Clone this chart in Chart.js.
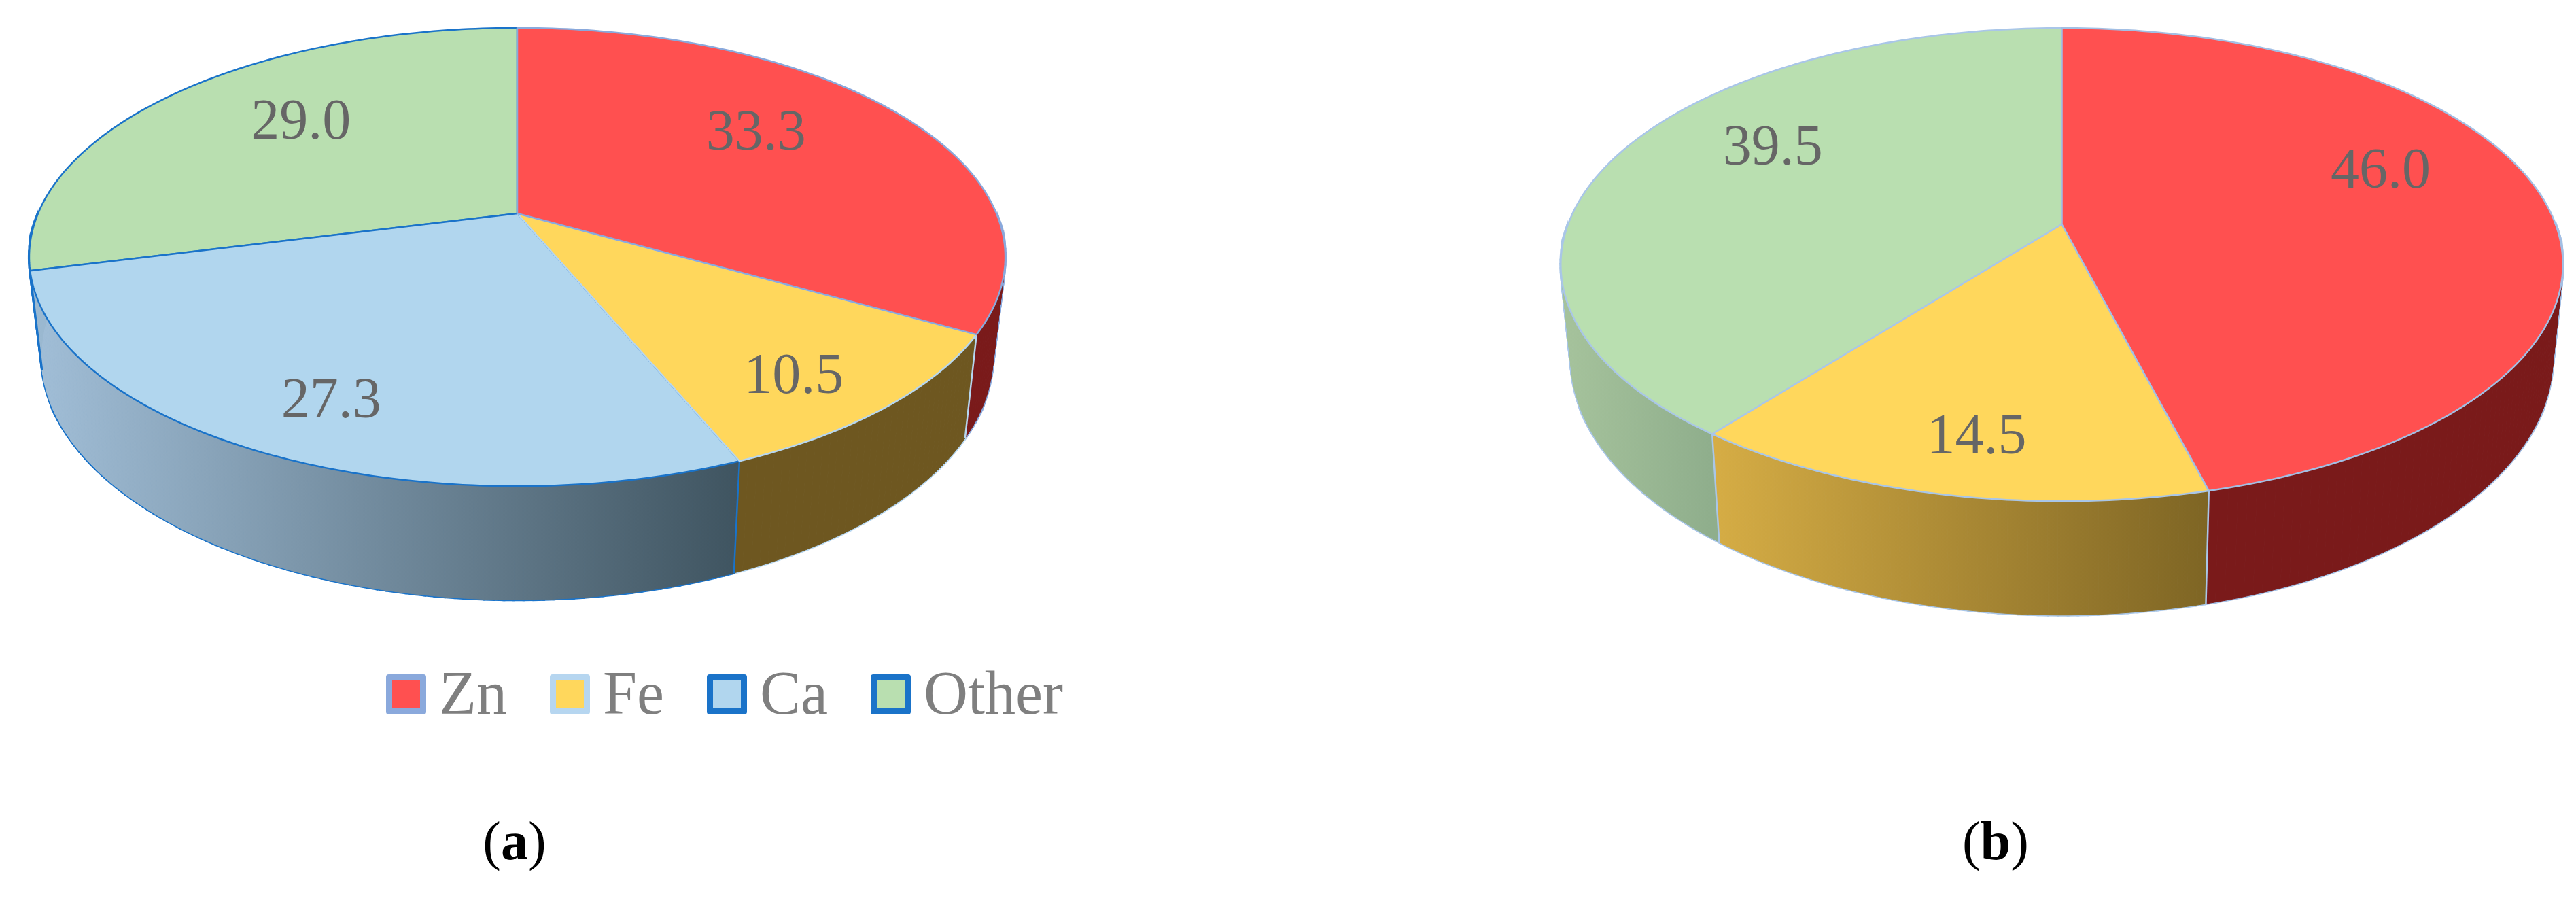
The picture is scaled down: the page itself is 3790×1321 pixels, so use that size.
<!DOCTYPE html>
<html>
<head>
<meta charset="utf-8">
<title>Composition pies</title>
<script src="https://cdn.jsdelivr.net/npm/chart.js@4"></script>
<style>
  html, body { margin: 0; background: #fff; overflow: hidden; }
  body { position: relative; width: 3790px; height: 1321px; font-family: "Liberation Serif", serif; }
  canvas { position: absolute; }
  #pieA { left: 0; top: -40px; }
  #pieB { left: 2200px; top: -40px; }
  .caption { position: absolute; top: 1197px; font-size: 80px; line-height: 80px; color: #000; transform: translateX(-50%); }
  #legend { position: absolute; left: 568px; top: 992px; display: flex; }
  .item { display: flex; margin-right: 63px; font-size: 90px; line-height: 60px; color: #7f7f7f; }
  .swatch { width: 41px; height: 41px; border-style: solid; border-width: 9.5px; border-radius: 4px; margin-right: 19px; }
  .item span { position: relative; top: -2px; }
</style>
</head>
<body>
<canvas id="pieA" width="1560" height="1000"></canvas>
<canvas id="pieB" width="1590" height="1000"></canvas>
<div id="legend"></div>
<div class="caption" style="left:757px">(<b>a</b>)</div>
<div class="caption" style="left:2936px">(<b>b</b>)</div>

<script>
const labelsA = ['Zn', 'Fe', 'Ca', 'Other'];
const valuesA = [33.3, 10.5, 27.3, 29.0];
const labelsB = ['Zn', 'Fe', 'Other'];
const valuesB = [46.0, 14.5, 39.5];

const RED = '#ff5050', YELLOW = '#ffd75c', BLUE = '#b1d6ee', GREEN = '#b9dfb0';

// fake 3d look of the pies: k is the perspective, base is the lower rim relative to the top one
function pie3d(look) {
  function project(chart, arc, angle, radius, rim) {
    const area = chart.chartArea;
    const x = Math.cos(angle) * radius, y = Math.sin(angle) * radius;
    const w = 1 - look.k * y;
    return {
      x: arc.x + rim.sx * (area.width / 2) * x / w,
      y: arc.y + rim.dy + rim.sy * (area.height / 2) * y / w
    };
  }
  const top = { sx: 1, sy: 1, dy: 0 };

  function angles(arc) {
    const list = [];
    const n = Math.ceil((arc.endAngle - arc.startAngle) / (Math.PI / 180));
    for (let i = 0; i <= n; i++) list.push(arc.startAngle + (arc.endAngle - arc.startAngle) * i / n);
    return list;
  }

  function drawWall(chart, arc, i, pass) {
    const ctx = chart.ctx;
    const near = angles(arc).filter(a => Math.sin(a) >= 0);
    if (near.length < 2) return;
    const xs = near.map(a => project(chart, arc, a, 1, top).x);
    const grad = ctx.createLinearGradient(Math.min(...xs), 0, Math.max(...xs), 0);
    grad.addColorStop(0, look.walls[i][0]);
    grad.addColorStop(1, look.walls[i][1]);
    for (let j = 0; j < near.length - 1; j++) {
      const p = [project(chart, arc, near[j], 1, top), project(chart, arc, near[j + 1], 1, top),
        project(chart, arc, near[j + 1], 1, look.base), project(chart, arc, near[j], 1, look.base)];
      ctx.beginPath();
      p.forEach((q, n) => n ? ctx.lineTo(q.x, q.y) : ctx.moveTo(q.x, q.y));
      ctx.closePath();
      if (pass === 0) {
        ctx.strokeStyle = arc.options.borderColor;
        ctx.lineWidth = 4;
        ctx.stroke();
      } else {
        ctx.fillStyle = grad;
        ctx.strokeStyle = grad;
        ctx.lineWidth = 1;
        ctx.fill();
        ctx.stroke();
      }
    }
  }

  function drawEdge(chart, arc, angle) {
    if (Math.sin(angle) < 0) return;
    const ctx = chart.ctx;
    const a = project(chart, arc, angle, 1, top), b = project(chart, arc, angle, 1, look.base);
    ctx.beginPath();
    ctx.moveTo(a.x, a.y);
    ctx.lineTo(b.x, b.y);
    ctx.strokeStyle = arc.options.borderColor;
    ctx.lineWidth = 2.5;
    ctx.stroke();
  }

  function drawTop(chart, arc) {
    const ctx = chart.ctx;
    ctx.beginPath();
    ctx.moveTo(arc.x, arc.y);
    angles(arc).forEach(a => {
      const q = project(chart, arc, a, 1, top);
      ctx.lineTo(q.x, q.y);
    });
    ctx.closePath();
    ctx.fillStyle = arc.options.backgroundColor;
    ctx.strokeStyle = arc.options.borderColor;
    ctx.lineWidth = arc.options.borderWidth;
    ctx.lineJoin = 'round';
    ctx.fill();
    ctx.stroke();
  }

  function drawLabel(chart, arc, i, value) {
    const ctx = chart.ctx;
    const q = project(chart, arc, (arc.startAngle + arc.endAngle) / 2, 0.65, top);
    ctx.fillStyle = '#666666';
    ctx.font = '84px "Liberation Serif", serif';
    ctx.textAlign = 'center';
    ctx.textBaseline = 'middle';
    ctx.fillText(value.toFixed(1), q.x + look.labelShift[i][0], q.y + look.labelShift[i][1]);
  }

  return {
    id: 'pie3d',
    // draws in place of the flat arcs, from the arcs the controller computed
    beforeDatasetsDraw(chart) {
      const arcs = chart.getDatasetMeta(0).data;
      const values = chart.data.datasets[0].data;
      arcs.forEach((arc, i) => drawWall(chart, arc, i, 0));
      arcs.forEach((arc, i) => drawWall(chart, arc, i, 1));
      arcs.forEach(arc => {
        drawEdge(chart, arc, arc.startAngle);
      });
      // Zn goes last, its outline sits on top in the original
      arcs.slice().reverse().forEach(arc => drawTop(chart, arc));
      arcs.forEach((arc, i) => drawLabel(chart, arc, i, values[i]));
      return false;
    }
  };
}

const htmlLegend = {
  id: 'htmlLegend',
  afterUpdate(chart) {
    const box = document.getElementById('legend');
    box.innerHTML = '';
    chart.options.plugins.legend.labels.generateLabels(chart).forEach(item => {
      const el = document.createElement('div');
      el.className = 'item';
      const swatch = document.createElement('div');
      swatch.className = 'swatch';
      swatch.style.background = item.fillStyle;
      swatch.style.borderColor = item.strokeStyle;
      const text = document.createElement('span');
      text.textContent = item.text;
      el.appendChild(swatch);
      el.appendChild(text);
      box.appendChild(el);
    });
  }
};

function pieOptions(padding) {
  return {
    responsive: false,
    animation: false,
    layout: { padding },
    plugins: { legend: { display: false }, tooltip: { enabled: false } }
  };
}

new Chart(document.getElementById('pieA'), {
  type: 'pie',
  data: {
    labels: labelsA,
    datasets: [{
      data: valuesA,
      backgroundColor: [RED, YELLOW, BLUE, GREEN],
      borderColor: ['#8aa9dc', '#b6d6f0', '#1a73c9', '#1a73c9'],
      borderWidth: 2.5
    }]
  },
  options: pieOptions({ left: 56, right: 94, top: 29, bottom: 321 }),
  plugins: [pie3d({
    k: 0.19,
    base: { sx: 0.975, sy: 1.065, dy: 141 },
    walls: [['#7a1a1a', '#7a1a1a'], ['#6e5720', '#6e5720'], ['#a2bfd8', '#3f5460'], ['#a2bfd8', '#9ab8d0']],
    labelShift: [[-22, -16], [73, 67], [-43, 66], [18, -12]]
  }), htmlLegend]
});

new Chart(document.getElementById('pieB'), {
  type: 'pie',
  data: {
    labels: labelsB,
    datasets: [{
      data: valuesB,
      backgroundColor: [RED, YELLOW, GREEN],
      borderColor: ['#a3bfe4', '#a9c6e8', '#a9c6e8'],
      borderWidth: 2.5
    }]
  },
  options: pieOptions({ left: 107, right: 30, top: 32, bottom: 292 }),
  plugins: [pie3d({
    k: 0.17,
    base: { sx: 0.98, sy: 1.086, dy: 132.5 },
    walls: [['#7a1a1a', '#7a1a1a'], ['#d6ad45', '#7e6524'], ['#a6c39c', '#8fae8c']],
    labelShift: [[7, -49], [-18, 74], [6, -41]]
  })]
});
</script>
</body>
</html>
